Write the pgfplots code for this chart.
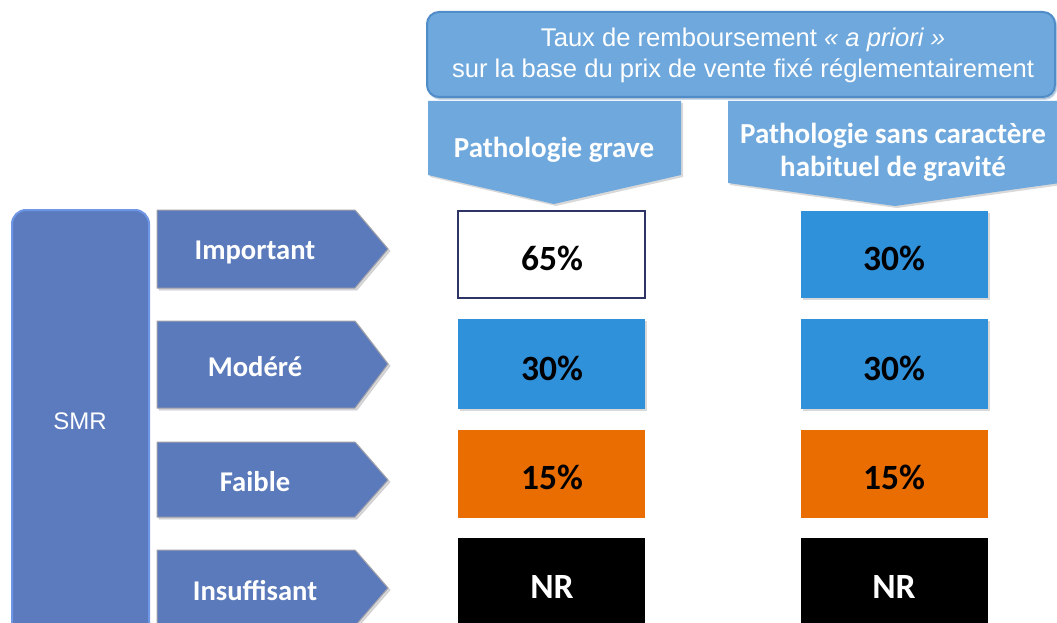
\documentclass[border=0pt]{standalone}
\usepackage{pgfplots}
\pgfplotsset{compat=1.18}
\usepackage{fontspec}
\setmainfont{Liberation Sans}
\newfontfamily\calfont{Carlito}
\usetikzlibrary{shadows}
\definecolor{hdr}{RGB}{111,168,220}
\definecolor{hdrB}{RGB}{80,140,200}
\definecolor{smr}{RGB}{91,123,190}
\definecolor{smrB}{RGB}{110,150,228}
\definecolor{arr}{RGB}{91,122,187}
\definecolor{arrB}{RGB}{160,160,170}
\definecolor{cblue}{RGB}{48,145,219}
\definecolor{corange}{RGB}{233,109,0}
\definecolor{navy}{RGB}{46,53,102}
\begin{document}
\begin{tikzpicture}
\begin{axis}[scale only axis, width=1057pt, height=623pt,
  xmin=0, xmax=1057, ymin=0, ymax=623, y dir=reverse, hide axis, clip=true]
% header
\addplot[fill=hdr, draw=hdrB, line width=2pt, rounded corners=12pt,
  drop shadow={shadow xshift=1.5pt, shadow yshift=-2pt, opacity=0.3}]
  coordinates {(427,12) (1055,12) (1055,97) (427,97)} -- cycle;
% column arrows
\addplot[fill=hdr, draw=none, drop shadow={shadow xshift=2pt, shadow yshift=-2pt, opacity=0.3}]
  coordinates {(428,101) (681,101) (681,175) (554,204) (428,175)} -- cycle;
\addplot[fill=hdr, draw=none, drop shadow={shadow xshift=2pt, shadow yshift=-2pt, opacity=0.3}]
  coordinates {(728,101) (1060,101) (1060,183) (895,206) (728,183)} -- cycle;
% SMR box
\addplot[fill=smr, draw=smrB, line width=2pt, rounded corners=14pt]
  coordinates {(12,210) (149,210) (149,660) (12,660)} -- cycle;
% row arrows
\addplot[fill=arr, draw=arrB, line width=1pt, drop shadow={shadow xshift=2pt, shadow yshift=-2pt, opacity=0.3}]
  coordinates {(157,210) (355,210) (388,249) (355,288) (157,288)} -- cycle;
\addplot[fill=arr, draw=arrB, line width=1pt, drop shadow={shadow xshift=2pt, shadow yshift=-2pt, opacity=0.3}]
  coordinates {(157,321) (355,321) (388,364) (355,408) (157,408)} -- cycle;
\addplot[fill=arr, draw=arrB, line width=1pt, drop shadow={shadow xshift=2pt, shadow yshift=-2pt, opacity=0.3}]
  coordinates {(157,442) (355,442) (388,480) (355,517) (157,517)} -- cycle;
\addplot[fill=arr, draw=arrB, line width=1pt, drop shadow={shadow xshift=2pt, shadow yshift=-2pt, opacity=0.3}]
  coordinates {(157,550) (355,550) (388,588) (355,626) (157,626)} -- cycle;
% cells
\addplot[fill=white, draw=navy, line width=2pt]
  coordinates {(458,211) (645,211) (645,298) (458,298)} -- cycle;
\addplot[fill=cblue, draw=none, drop shadow={shadow xshift=2pt, shadow yshift=-2pt, opacity=0.3}]
  coordinates {(801,211) (988,211) (988,298) (801,298)} -- cycle;
\addplot[fill=cblue, draw=none, drop shadow={shadow xshift=2pt, shadow yshift=-2pt, opacity=0.3}]
  coordinates {(458,319) (645,319) (645,409) (458,409)} -- cycle;
\addplot[fill=cblue, draw=none, drop shadow={shadow xshift=2pt, shadow yshift=-2pt, opacity=0.3}]
  coordinates {(801,319) (988,319) (988,409) (801,409)} -- cycle;
\addplot[fill=corange, draw=none]
  coordinates {(458,430) (645,430) (645,518) (458,518)} -- cycle;
\addplot[fill=corange, draw=none]
  coordinates {(801,430) (988,430) (988,518) (801,518)} -- cycle;
\addplot[fill=black, draw=none]
  coordinates {(458,538) (645,538) (645,640) (458,640)} -- cycle;
\addplot[fill=black, draw=none]
  coordinates {(801,538) (988,538) (988,640) (801,640)} -- cycle;
% texts
\node[white, font=\fontsize{25.6}{31}\selectfont, align=center] at (axis cs:743,55)
  {Taux de remboursement \textit{« a priori »}\\sur la base du prix de vente fixé réglementairement};
\node[white, font=\calfont\bfseries\fontsize{29}{33}\selectfont] at (axis cs:554,150) {Pathologie grave};
\node[white, font=\calfont\bfseries\fontsize{29}{33}\selectfont, align=center] at (axis cs:893,152)
  {Pathologie sans caractère\\habituel de gravité};
\node[white, font=\fontsize{24}{28}\selectfont] at (axis cs:80,421) {SMR};
\node[white, font=\calfont\bfseries\fontsize{28.6}{32}\selectfont] at (axis cs:255,252) {Important};
\node[white, font=\calfont\bfseries\fontsize{28.6}{32}\selectfont] at (axis cs:255,367) {Modéré};
\node[white, font=\calfont\bfseries\fontsize{28.6}{32}\selectfont] at (axis cs:255,482) {Faible};
\node[white, font=\calfont\bfseries\fontsize{28.6}{32}\selectfont] at (axis cs:255,591) {Insuffisant};
\node[black, font=\calfont\bfseries\fontsize{35.5}{40}\selectfont] at (axis cs:552,258) {65\%};
\node[black, font=\calfont\bfseries\fontsize{35.5}{40}\selectfont] at (axis cs:894,258) {30\%};
\node[black, font=\calfont\bfseries\fontsize{35.5}{40}\selectfont] at (axis cs:552,368) {30\%};
\node[black, font=\calfont\bfseries\fontsize{35.5}{40}\selectfont] at (axis cs:894,368) {30\%};
\node[black, font=\calfont\bfseries\fontsize{35.5}{40}\selectfont] at (axis cs:552,477) {15\%};
\node[black, font=\calfont\bfseries\fontsize{35.5}{40}\selectfont] at (axis cs:894,477) {15\%};
\node[white, font=\calfont\bfseries\fontsize{35.5}{40}\selectfont] at (axis cs:552,587) {NR};
\node[white, font=\calfont\bfseries\fontsize{35.5}{40}\selectfont] at (axis cs:894,587) {NR};
\end{axis}
\pgfresetboundingbox
\path[use as bounding box] (current axis.south west) rectangle (current axis.north east);
\end{tikzpicture}
\end{document}
